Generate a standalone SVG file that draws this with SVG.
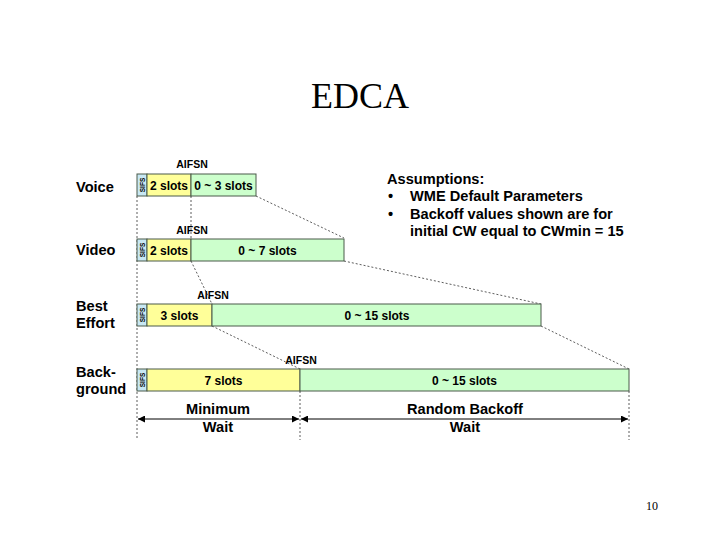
<svg xmlns="http://www.w3.org/2000/svg" width="720" height="540" viewBox="0 0 720 540">
<style>
.lbl{font-family:"Liberation Sans",Arial,sans-serif;font-weight:bold;font-size:14.6px;fill:#000}
.slot{font-family:"Liberation Sans",Arial,sans-serif;font-weight:bold;font-size:12px;fill:#000;text-anchor:middle}
.aif{font-family:"Liberation Sans",Arial,sans-serif;font-weight:bold;font-size:10.5px;fill:#000;text-anchor:middle}
.sifs{font-family:"Liberation Sans",Arial,sans-serif;font-weight:bold;font-size:6.5px;fill:#000;text-anchor:middle}
.sb{fill:#c8e8f4;stroke:#4a5a4a;stroke-width:1}
.yb{fill:#ffff99;stroke:#4a5a4a;stroke-width:1}
.gb{fill:#ccffcc;stroke:#4a5a4a;stroke-width:1}
.dash{stroke:#333;stroke-width:0.8;stroke-dasharray:2,2;fill:none}
.arr{stroke:#000;stroke-width:1;fill:none}
</style>
<defs>
<marker id="ah" viewBox="0 0 10 10" refX="10" refY="5" markerWidth="9" markerHeight="7" orient="auto-start-reverse" markerUnits="userSpaceOnUse">
<path d="M0,0 L10,5 L0,10 z" fill="#000"/>
</marker>
</defs>
<rect width="720" height="540" fill="#fff"/>
<text x="360" y="108" text-anchor="middle" font-family="Liberation Serif,'Times New Roman',serif" font-size="36" fill="#000">EDCA</text>
<text x="652" y="510" text-anchor="middle" font-family="Liberation Serif,'Times New Roman',serif" font-size="12" fill="#000">10</text>

<g id="connectors">
<line class="dash" x1="137" y1="196" x2="137" y2="440"/>
<line class="dash" x1="191" y1="196" x2="191" y2="238"/>
<line class="dash" x1="191" y1="261" x2="212" y2="304"/>
<line class="dash" x1="212" y1="326" x2="300" y2="369"/>
<line class="dash" x1="300" y1="391" x2="300" y2="440"/>
<line class="dash" x1="629" y1="391" x2="629" y2="440"/>
<line class="dash" x1="256" y1="196" x2="344" y2="238"/>
<line class="dash" x1="344" y1="261" x2="541" y2="304"/>
<line class="dash" x1="541" y1="326" x2="629" y2="369"/>
<line class="arr" x1="138" y1="419" x2="299" y2="419" marker-start="url(#ah)" marker-end="url(#ah)"/>
<line class="arr" x1="301" y1="419" x2="628" y2="419" marker-start="url(#ah)" marker-end="url(#ah)"/>
</g>

<g id="voice">
<text class="lbl" x="76" y="192">Voice</text>
<text class="aif" x="192" y="168">AIFSN</text>
<rect class="sb" x="137" y="174" width="10" height="22"/>
<text class="sifs" transform="translate(144.7,185) rotate(-90)">SIFS</text>
<rect class="yb" x="147" y="174" width="44" height="22"/>
<text class="slot" x="169" y="190">2 slots</text>
<rect class="gb" x="191" y="174" width="65" height="22"/>
<text class="slot" x="223.5" y="190">0 ~ 3 slots</text>
</g>

<g id="video">
<text class="lbl" x="76" y="255">Video</text>
<text class="aif" x="192" y="234">AIFSN</text>
<rect class="sb" x="137" y="239" width="10" height="22"/>
<text class="sifs" transform="translate(144.7,250) rotate(-90)">SIFS</text>
<rect class="yb" x="147" y="239" width="44" height="22"/>
<text class="slot" x="169" y="255">2 slots</text>
<rect class="gb" x="191" y="239" width="153" height="22"/>
<text class="slot" x="267.5" y="255">0 ~ 7 slots</text>
</g>

<g id="best-effort">
<text class="lbl" x="76" y="311">Best</text>
<text class="lbl" x="76" y="328">Effort</text>
<text class="aif" x="213" y="299">AIFSN</text>
<rect class="sb" x="137" y="304" width="10" height="22"/>
<text class="sifs" transform="translate(144.7,315) rotate(-90)">SIFS</text>
<rect class="yb" x="147" y="304" width="65" height="22"/>
<text class="slot" x="179.5" y="320">3 slots</text>
<rect class="gb" x="212" y="304" width="329" height="22"/>
<text class="slot" x="377" y="320">0 ~ 15 slots</text>
</g>

<g id="background">
<text class="lbl" x="76" y="377">Back-</text>
<text class="lbl" x="76" y="394">ground</text>
<text class="aif" x="301" y="364">AIFSN</text>
<rect class="sb" x="137" y="369" width="10" height="22"/>
<text class="sifs" transform="translate(144.7,380) rotate(-90)">SIFS</text>
<rect class="yb" x="147" y="369" width="153" height="22"/>
<text class="slot" x="223.5" y="385">7 slots</text>
<rect class="gb" x="300" y="369" width="329" height="22"/>
<text class="slot" x="464.5" y="385">0 ~ 15 slots</text>
</g>

<g id="minimum-wait">
<text class="lbl" x="218" y="414" text-anchor="middle">Minimum</text>
<text class="lbl" x="218" y="432" text-anchor="middle">Wait</text>
</g>
<g id="random-backoff-wait">
<text class="lbl" x="465" y="414" text-anchor="middle">Random Backoff</text>
<text class="lbl" x="465" y="432" text-anchor="middle">Wait</text>
</g>

<g id="assumptions">
<text class="lbl" x="387" y="184">Assumptions:</text>
<text class="lbl" x="388" y="201">•</text>
<text class="lbl" x="410" y="201">WME Default Parameters</text>
<text class="lbl" x="388" y="219">•</text>
<text class="lbl" x="410" y="219">Backoff values shown are for</text>
<text class="lbl" x="410" y="236">initial CW equal to CWmin = 15</text>
</g>
</svg>
